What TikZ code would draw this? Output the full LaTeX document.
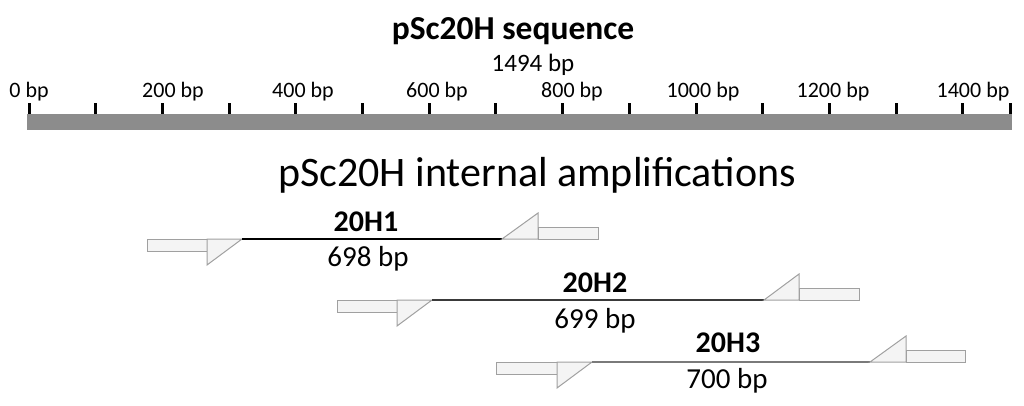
\documentclass[tikz,border=0pt]{standalone}
\usepackage{fontspec}
\setmainfont{Carlito}
\definecolor{bargray}{HTML}{8C8C8C}
\definecolor{primfill}{HTML}{F4F4F4}
\definecolor{primdraw}{HTML}{A0A0A0}
\begin{document}
\begin{tikzpicture}[x=1pt,y=-1pt,
  tick/.style={line width=3pt,black},
  rulerlbl/.style={anchor=base,inner sep=0pt,font=\fontsize{22}{22}\selectfont},
  primer/.style={fill=primfill,draw=primdraw,line width=1pt,line join=miter},
  amplbl/.style={anchor=base,inner sep=0pt,font=\fontsize{30}{30}\selectfont\bfseries},
  sizelbl/.style={anchor=base,inner sep=0pt,font=\fontsize{29}{29}\selectfont}]
\useasboundingbox (0,0) rectangle (1024,405);
% titles
\node[anchor=base,inner sep=0pt,font=\fontsize{33.5}{33.5}\selectfont\bfseries] (title) at (513,39) {pSc20H sequence};
\node[anchor=base,inner sep=0pt,font=\fontsize{25}{25}\selectfont] (len) at (533,71) {1494 bp};
% ruler
\fill[bargray] (27,114) rectangle (1012,130);
\foreach \i in {0,...,14}{
  \draw[tick] ({29+66.7*\i},103) -- ({29+66.7*\i},114);
}
\draw[tick] (1010,103) -- (1010,114);
\node[rulerlbl] (l0) at (29,97) {0 bp};
\node[rulerlbl] (l200) at (173,97) {200 bp};
\node[rulerlbl] (l400) at (303,97) {400 bp};
\node[rulerlbl] (l600) at (437,97) {600 bp};
\node[rulerlbl] (l800) at (572,97) {800 bp};
\node[rulerlbl] (l1000) at (703,97) {1000 bp};
\node[rulerlbl] (l1200) at (833,97) {1200 bp};
\node[rulerlbl] (l1400) at (973,97) {1400 bp};
% subtitle
\node[anchor=base,inner sep=0pt,font=\fontsize{42}{42}\selectfont] (sub) at (537,186) {pSc20H internal amplifications};
% amplicons: a b c d e f y color width
\newcommand\amplicon[9]{%
  \draw[primer] (#1,#7) rectangle (#2,#7+12);
  \draw[primer] (#2,#7) -- (#2,#7+26) -- (#3,#7) -- cycle;
  \coordinate (s) at (#3,#7);
  \coordinate (t) at (#4,#7);
  \draw[#8,line width=#9] (s) -- (t);
  \draw[primer] (#4,#7) -- (#5,#7-26) -- (#5,#7) -- cycle;
  \draw[primer] (#5,#7-12) rectangle (#6,#7);
}
\definecolor{l1}{HTML}{000000}
\definecolor{l2}{HTML}{3A3A3A}
\definecolor{l3}{HTML}{7A7A7A}
\amplicon{147}{207}{242}{502}{538}{598}{239}{l1}{2.5pt}
\amplicon{337}{397}{432}{764}{799}{859}{300}{l2}{2pt}
\amplicon{496}{557}{592}{870}{906}{965}{362}{l3}{1.6pt}
\node[amplbl] (n1) at (366,231) {20H1};
\node[sizelbl] (s1) at (368,266) {698 bp};
\node[amplbl] (n2) at (595,292) {20H2};
\node[sizelbl] (s2) at (595,328) {699 bp};
\node[amplbl] (n3) at (728,352) {20H3};
\node[sizelbl] (s3) at (727,388) {700 bp};
\end{tikzpicture}
\end{document}
